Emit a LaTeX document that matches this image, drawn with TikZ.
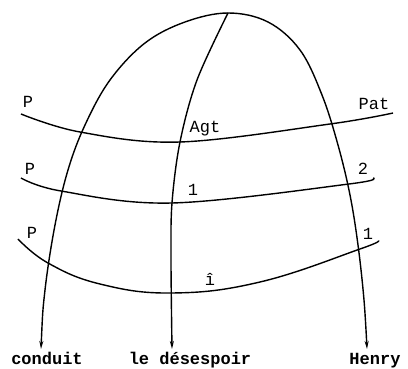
\documentclass[tikz,border=0pt]{standalone}
\usepackage{fontspec}
\setmonofont{Liberation Mono}
\usetikzlibrary{arrows.meta}

\begin{document}
\begin{tikzpicture}[>={Stealth[length=8pt,width=4pt]}, x=1pt, y=-1pt, line width=1.4pt,
    font=\ttfamily\fontsize{17}{17}\selectfont,
    word/.style={inner sep=0pt, anchor=base, font=\ttfamily\bfseries\fontsize{17}{17}\selectfont},
    lbl/.style={inner sep=0pt, anchor=base}]
  \useasboundingbox (0,0) rectangle (408,369);
  % the three words at the foot and the apex of the arch
  \node[word] (conduit) at (47,364) {conduit};
  \node[word] (desespoir) at (190,364) {le désespoir};
  \node[word] (henry) at (375,364) {Henry};
  \coordinate (top) at (228,13);
  \coordinate (conduit tip) at ([xshift=-6pt, yshift=15pt]conduit.base);
  \coordinate (desespoir tip) at ([xshift=-18pt, yshift=15pt]desespoir.base);
  \coordinate (henry tip) at ([xshift=-8pt, yshift=15pt]henry.base);
  % the arch and the stem
  \draw[<->] plot[smooth, tension=0.6] coordinates {(conduit tip) (45,290) (55,225) (68,170)
    (85,125) (110,80) (145,43) (185,22) (top) (268,22) (300,50) (322,95) (338,145) (350,195)
    (358,245) (364,300) (henry tip)};
  \draw[->] plot[smooth, tension=0.55] coordinates {(top) (197,80) (180,142) (172,203) (171,260)
    (desespoir tip)};
  % the three cross curves
  \draw plot[smooth, tension=0.6] coordinates {(21,114) (80,132) (180,142) (330,124) (393,113)};
  \draw plot[smooth, tension=0.6] coordinates {(21,178) (61,191) (172,203) (349,184) (373,178)};
  \draw plot[smooth, tension=0.7] coordinates {(18,239) (48,263) (100,284) (172,293) (260,282)
    (360,249) (378,241)};
  % labels on the curves
  \node[lbl] (p1) at (28,108) {P};
  \node[lbl] (pat) at (374,110) {Pat};
  \node[lbl] (agt) at (205,133) {Agt};
  \node[lbl] (p2) at (30,175) {P};
  \node[lbl] (one2) at (193,196) {1};
  \node[lbl] (two2) at (363,175) {2};
  \node[lbl] (p3) at (32,239) {P};
  \node[lbl] (one3) at (368,240) {1};
  \node[lbl] (hat3) at (210,286) {î};
\end{tikzpicture}
\end{document}
